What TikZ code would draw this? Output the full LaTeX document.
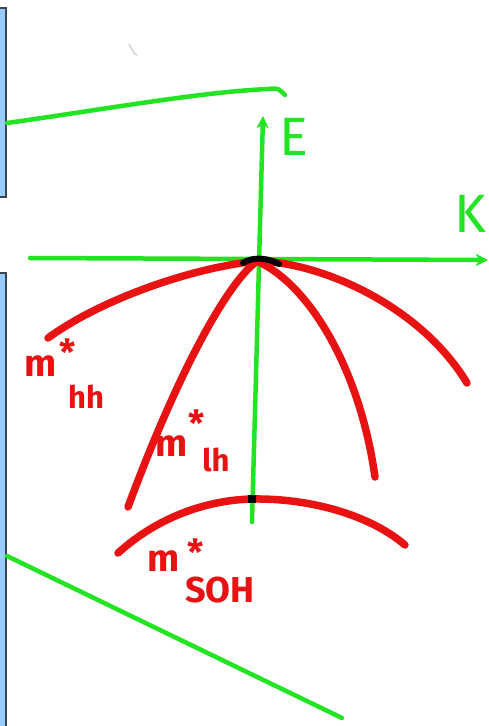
\documentclass[tikz,border=0pt]{standalone}
\usepackage{fontspec}
\setmainfont{Fira Sans}
\usetikzlibrary{arrows.meta}
\definecolor{pengreen}{RGB}{34,228,34}
\definecolor{penred}{RGB}{232,18,18}
\definecolor{panelblue}{RGB}{153,204,255}
\definecolor{paneledge}{RGB}{60,70,80}
\tikzset{
  panel/.style={fill=panelblue, draw=paneledge, line width=1.5pt},
  greenline/.style={draw=pengreen, line width=4.5pt, line cap=round},
  axis/.style={greenline, -{Stealth[length=12pt,width=12pt,inset=3pt]}},
  band/.style={draw=penred, line width=7.5pt, line cap=round},
  redlbl/.style={text=penred, inner sep=0pt, font=\bfseries\fontsize{38}{40}\selectfont},
  redsub/.style={text=penred, inner sep=0pt, font=\bfseries\fontsize{31}{33}\selectfont},
  redstar/.style={text=penred, inner sep=0pt, font=\bfseries\fontsize{36}{38}\selectfont},
  greenlbl/.style={text=pengreen, inner sep=0pt, font=\fontsize{54}{56}\selectfont}
}
\begin{document}
\begin{tikzpicture}[x=1pt,y=-1pt]
\useasboundingbox (0,0) rectangle (488,726);
\fill[white] (0,0) rectangle (488,726);

% side panels
\draw[panel] (-5,8) rectangle (6,197);
\draw[panel] (-5,273) rectangle (6,740);

% stray mark
\draw[gray!45, line width=1pt, line cap=round] (129,44) -- (134,53) -- (137,55);

% green guide lines
\coordinate (ta) at (7,123);
\coordinate (tb) at (285,95);
\draw[greenline] (ta) .. controls (100,110) and (200,92) .. (268,89) .. controls (278,88) .. (tb);
\coordinate (ba) at (7,556);
\coordinate (bb) at (342,718);
\draw[greenline] (ba) -- (bb);

% axes
\coordinate (e0) at (252,522);
\coordinate (e1) at (263,116);
\coordinate (k0) at (30,258);
\coordinate (k1) at (488,260);
\draw[axis] (k0) -- (k1);
\draw[axis] (e0) -- (e1);
\node[greenlbl] (E) at (294,137) {E};
\node[greenlbl] (K) at (470,214) {K};

% bands
\coordinate (A) at (257,261);
\draw[band] (A) .. controls (190,268) and (100,300) .. (48,338);
\draw[band] (A) .. controls (225,285) and (175,380) .. (128,507);
\draw[band] (A) .. controls (310,285) and (360,370) .. (375,477);
\draw[band] (A) .. controls (320,262) and (420,305) .. (467,383);
\coordinate (S0) at (118,553);
\coordinate (S1) at (252,499);
\coordinate (S2) at (405,545);
\draw[band] (S0) .. controls (160,515) and (210,500) .. (S1) .. controls (310,498) and (370,515) .. (S2);

% dark ink at junctions
\draw[black, line width=6pt, line cap=round] (243,263) .. controls (252,257) and (266,257) .. (279,264);
\fill[black] (248,495) rectangle (256,503);

% labels
\node[redlbl] (mhh) at (41,366) {m};
\node[redstar] (shh) at (68,352) {*};
\node[redsub] (hh) at (86,397) {hh};

\node[redlbl] (mlh) at (172,446) {m};
\node[redstar] (slh) at (197,423) {*};
\node[redsub] (lh) at (216,460) {lh};

\node[redlbl] (mso) at (164,561) {m};
\node[redstar] (sso) at (196,552) {*};
\node[redsub, font=\bfseries\fontsize{36}{38}\selectfont] (soh) at (220,590) {SOH};
\end{tikzpicture}
\end{document}
